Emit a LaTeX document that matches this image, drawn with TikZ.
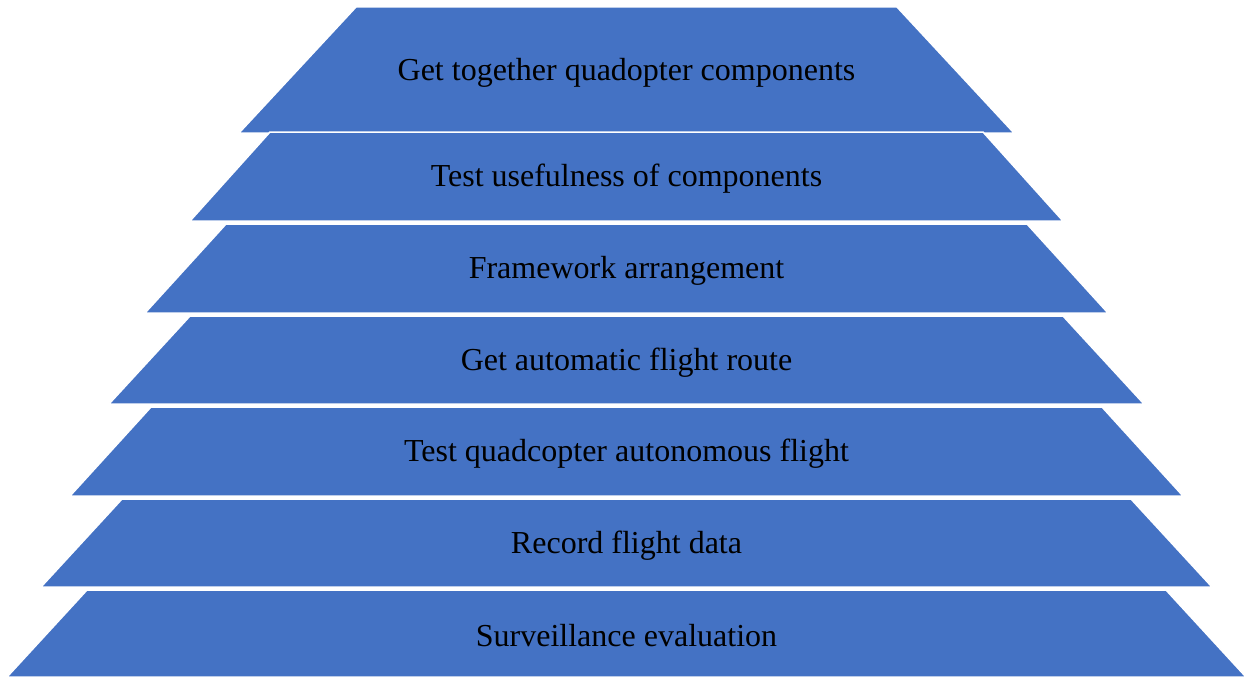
\documentclass[tikz,border=0pt]{standalone}
\usepackage{fontspec}
\setmainfont{Liberation Serif}
\definecolor{tier}{HTML}{4472C4}
\tikzset{
  tierbox/.style={fill=tier, draw=white, line width=1.5pt, line join=miter},
  tierlabel/.style={font=\fontsize{32}{38}\selectfont, text=black, inner sep=0pt, anchor=center}
}
\begin{document}
\begin{tikzpicture}[x=1pt,y=-1pt]
\useasboundingbox (0,0) rectangle (1245,677);
\def\cx{626.5}
% ytop, ybot, top-left x, bottom-left x, name, text
\foreach \yt/\yb/\tl/\bl/\nm/\txt in {
  7/133/356/239/t1/{Get together quadopter components},
  132/221/270/190/t2/{Test usefulness of components},
  224/313/226/145/t3/{Framework arrangement},
  316/404/190/109/t4/{Get automatic flight route},
  407/496/151/70/t5/{Test quadcopter autonomous flight},
  499/587/122/41/t6/{Record flight data},
  590/677/87/7/t7/{Surveillance evaluation}}{
  \path[tierbox] (\tl,\yt) -- ({2*\cx-\tl},\yt) -- ({2*\cx-\bl},\yb) -- (\bl,\yb) -- cycle;
  \node[tierlabel] (\nm) at (\cx,{(\yt+\yb)/2+2.5}) {\txt};
}
\end{tikzpicture}
\end{document}
